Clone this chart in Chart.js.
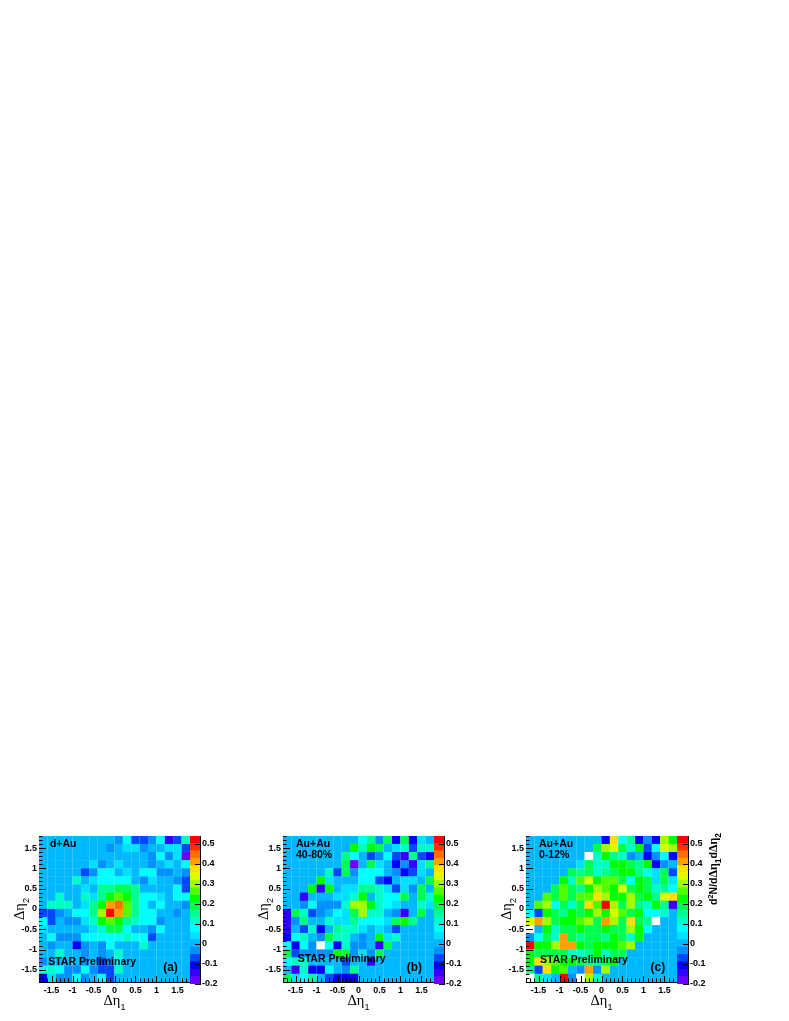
<!DOCTYPE html>
<html>
<head>
    <title>Two-particle correlations</title>
    <meta charset="UTF-8">
    <style>
        body { margin: 0; background: #fff; }
        #figure { position: relative; width: 789px; height: 1021px; overflow: hidden; }
        canvas { position: absolute; }
    </style>
</head>
<body>
    <div id="figure"></div>

    <script src="https://cdn.jsdelivr.net/npm/chart.js"></script>

    <script>
        // Bin centres, left to right and top to bottom
        const etaX = [-1.7,-1.5,-1.3,-1.1,-0.9,-0.7,-0.5,-0.3,-0.1,0.1,0.3,0.5,0.7,0.9,1.1,1.3,1.5,1.7];
        const etaY = [1.7,1.5,1.3,1.1,0.9,0.7,0.5,0.3,0.1,-0.1,-0.3,-0.5,-0.7,-0.9,-1.1,-1.3,-1.5,-1.7];

        const dAu = [
            [0,0,0,0,0,0,0,0,0,-.03,.08,-.07,-.07,-.03,.08,-.14,-.07,.11],
            [0,0,0,0,0,0,0,0,-.03,0,.04,.04,-.03,0,0,.04,.04,-.07],
            [0,0,0,0,0,0,0,0,0,0,0,0,0,-.03,.08,-.03,.04,-.18],
            [0,0,0,0,0,0,.04,-.03,0,.04,0,0,0,-.03,0,.04,0,.08],
            [0,0,0,0,0,-.07,-.03,.08,.08,0,.04,0,.08,.08,-.03,-.03,0,-.03],
            [0,0,0,0,.11,0,.04,.08,.08,.08,.08,0,-.03,.04,0,0,-.03,-.07],
            [0,0,0,0,0,.04,0,.15,.15,.19,.19,.15,0,0,0,0,.08,-.07],
            [0,0,.11,0,0,.11,.04,.15,.23,.26,.23,.15,.08,.08,.04,0,.08,.08],
            [0,.11,.11,.11,0,.04,.15,.23,.41,.45,.26,.15,.08,0,.08,0,0,-.03],
            [-.07,-.07,-.03,0,.08,.08,.15,.3,.52,.41,.26,.15,.08,.08,0,0,-.03,0],
            [.08,-.07,0,-.03,-.03,.04,.11,.23,.26,.23,.15,.11,.08,.08,-.03,0,0,0],
            [.04,0,0,0,0,0,.04,.11,.19,.19,.08,0,0,-.03,.08,0,0,0],
            [0,.08,-.03,-.03,-.03,.08,.08,.08,.08,.08,.11,.08,.08,-.07,0,0,0,0],
            [0,-.03,0,0,-.11,-.03,0,-.03,.08,0,0,0,.11,0,0,0,0,0],
            [0,0,.11,0,0,-.03,0,-.03,0,.11,0,0,0,0,0,0,0,0],
            [-.03,0,0,0,0,-.03,0,-.07,-.03,.08,0,0,0,0,0,0,0,0],
            [.08,.11,.08,-.03,-.03,.08,-.03,-.07,-.07,.11,0,0,0,0,0,0,0,0],
            [-.11,.04,-.03,-.03,.08,-.03,0,.08,-.07,0,0,0,0,0,0,0,0,0]
        ];

        const auAu40 = [
            [0,0,0,0,0,0,0,0,0,.08,.15,-.03,.19,-.11,.19,-.11,.04,0],
            [0,0,0,0,0,0,0,0,.23,.11,.23,.19,0,.04,.11,-.07,.11,.11],
            [0,0,0,0,0,0,0,.15,.08,0,-.07,-.03,.08,-.07,-.14,.15,-.07,-.11],
            [0,0,0,0,0,0,0,.19,-.18,0,.19,.04,0,-.11,-.03,-.14,.04,.15],
            [0,0,0,0,0,.11,-.07,.19,-.03,.08,.08,.08,0,-.03,-.11,-.07,.04,0],
            [0,0,0,0,.23,.04,0,0,0,.08,.08,-.07,-.11,0,.04,.04,0,.19],
            [0,0,0,.23,-.14,.23,0,.04,.04,.15,.15,.11,.04,-.07,.04,-.03,.19,0],
            [0,0,-.14,0,0,0,.04,.04,.11,.23,0,.11,.08,.08,.19,0,.19,.11],
            [0,0,-.03,.08,-.03,-.03,-.03,.11,.3,.3,.23,.11,.08,.04,0,0,.11,.04],
            [-.14,.19,.11,-.07,-.03,0,.08,.04,.19,.3,.11,.11,0,-.03,-.14,0,.19,0],
            [-.14,-.03,.15,0,0,.11,.04,.04,.15,.08,.08,.08,.04,.19,.23,.15,0,0],
            [-.14,0,-.07,.11,-.11,0,.15,.11,.11,.04,0,.04,0,-.07,0,0,0,0],
            [-.11,.08,.11,0,-.03,.19,.11,.11,0,-.03,0,.23,.04,.11,0,0,0,0],
            [.08,-.11,.08,-.03,.6,.08,-.11,.11,-.03,-.03,0,-.14,.19,0,0,0,0,0],
            [.19,-.07,-.03,-.03,-.03,-.03,.23,.19,-.03,.04,-.03,.19,0,0,0,0,0,0],
            [.08,.11,.11,0,0,0,0,-.07,0,0,-.14,0,0,0,0,0,0,0],
            [0,-.14,.11,-.11,-.11,.08,0,-.03,.15,0,0,0,0,0,0,0,0,0],
            [.19,.04,.08,.15,0,-.07,-.11,-.11,-.11,0,0,0,0,0,0,0,0,0]
        ];

        const auAu0 = [
            [0,0,0,0,0,0,0,0,0,-.11,.37,.08,.15,-.11,-.03,-.11,.3,.23],
            [0,0,0,0,0,0,0,0,.19,.3,.34,.19,.11,.23,-.07,.08,.34,.3],
            [0,0,0,0,0,0,0,.6,.11,.23,.15,.11,-.03,0,-.11,-.03,.08,-.11],
            [0,0,0,0,0,0,.04,.19,.11,.11,.23,.23,.19,.15,.23,-.11,-.03,0],
            [0,0,0,0,0,.19,.15,.19,.11,.15,.19,.23,.23,.15,.08,.04,.19,-.07],
            [0,0,0,0,.23,.11,.26,.34,.23,.26,.26,.19,.08,.23,.19,.04,.19,.04],
            [0,0,0,.19,.26,.19,.15,.23,.3,.26,.23,.34,.19,.23,.19,.11,.15,.08],
            [0,0,.26,.19,.26,.19,.26,.26,.37,.3,.23,.23,.3,.19,.23,.15,.34,.37],
            [0,.26,.3,.08,.19,.11,.19,.37,.26,.52,.3,.19,.3,.15,.11,.23,.15,-.14],
            [.08,-.07,.23,.19,.15,.23,.19,.23,.3,.23,.34,.26,.19,.23,.08,.08,.11,0],
            [.34,.41,.3,.19,.23,.23,.26,.3,.19,.41,.3,.19,.37,.19,.15,.6,0,0],
            [.6,0,.23,.11,.19,.19,.23,.19,.19,.23,.19,.19,.3,.23,.08,0,0,0],
            [-.03,.08,.19,.11,.41,.19,.15,.19,.19,.15,.23,.19,.11,.23,0,0,0,0],
            [.52,.23,.23,.3,.41,.41,.23,.19,.23,.23,.23,.26,.3,0,0,0,0,0],
            [.23,.19,.19,.19,.19,.11,.11,.15,.23,.11,.19,.19,0,0,0,0,0,0],
            [.23,.37,.3,.26,.23,.23,.19,.15,.15,.19,.23,0,0,0,0,0,0,0],
            [.15,-.07,.37,.23,.26,0,-.03,.41,-.03,.3,0,0,0,0,0,0,0,0],
            [.6,.15,.04,0,.52,-.03,.6,.3,.11,0,0,0,0,0,0,0,0,0]
        ];

        // Colour scale: contour edges and one colour per contour
        const zEdges = [-.2,-.163,-.126,-.089,-.052,-.015,.022,.059,.096,.133,.17,.207,.244,.281,.318,.355,.392,.429,.466,.503,.54];
        const zColors = ['#6a00ff','#3300ff','#0000ff','#0048ff','#0090ff','#00b8ff','#00e0ff','#00ffff','#00ffc8','#00ff90','#00ff50','#00ff00','#50ff00','#a0ff00','#d8ff00','#ffe000','#ffa000','#ff7000','#ff3000','#ff0000'];

        // Axis titles as runs: [text, kind], kind is n(ormal), g(reek), s(ubscript) or u(pper index)
        const xTitle = [['Δη', 'g'], ['1', 's']];
        const yTitle = [['Δη', 'g'], ['2', 's']];
        const zTitle = [['d', 'n'], ['2', 'u'], ['N/d', 'n'], ['Δη', 'g'], ['1', 's'], ['d', 'n'], ['Δη', 'g'], ['2', 's']];

        const starLabel = 'STAR Preliminary';

        function colorFor(v) {
            if (v < zEdges[0] || v > zEdges[zEdges.length - 1]) return '#ffffff';
            for (let i = 0; i < zColors.length; i++) {
                if (v <= zEdges[i + 1]) return zColors[i];
            }
            return '#ffffff';
        }

        function cellPoints(rows) {
            const points = [];
            rows.forEach((row, r) => {
                row.forEach((v, c) => {
                    points.push({ x: etaX[c], y: etaY[r], v: v });
                });
            });
            return points;
        }

        // ROOT style ticks, drawn inwards from the axis
        const inwardTicks = {
            id: 'inwardTicks',
            afterDraw(chart) {
                const ctx = chart.ctx;
                const area = chart.chartArea;
                ctx.save();
                ctx.strokeStyle = '#000';
                ctx.lineWidth = 1;
                ctx.beginPath();
                if (chart.config.type === 'scatter') {
                    chart.scales.x.ticks.forEach(t => {
                        const big = isMajor(t.value);
                        const px = Math.round(chart.scales.x.getPixelForValue(t.value)) + 0.5;
                        ctx.moveTo(px, area.bottom);
                        ctx.lineTo(px, area.bottom - (big ? 6 : 3.5));
                    });
                    chart.scales.y.ticks.forEach(t => {
                        const big = isMajor(t.value);
                        const py = Math.round(chart.scales.y.getPixelForValue(t.value)) + 0.5;
                        ctx.moveTo(area.left, py);
                        ctx.lineTo(area.left + (big ? 7 : 3.5), py);
                    });
                } else {
                    chart.scales.y.ticks.forEach(t => {
                        const py = Math.round(chart.scales.y.getPixelForValue(t.value)) + 0.5;
                        ctx.moveTo(area.right, py);
                        ctx.lineTo(area.right - 5, py);
                    });
                }
                ctx.stroke();
                ctx.restore();
            }
        };

        const sans = '"Liberation Sans", Arial, sans-serif';
        const serif = '"Liberation Serif", "DejaVu Serif", serif';

        function drawRuns(ctx, runs, x, y, rotated, centered, bold) {
            const weight = bold ? 'bold ' : '';
            const fonts = {
                n: weight + '10.5px ' + sans,
                g: weight + (bold ? '12px ' : '14.5px ') + serif,
                s: weight + (bold ? '8.5px ' : '9px ') + sans,
                u: weight + '7.5px ' + sans
            };
            const shift = { n: 0, g: 0, s: bold ? 4 : 4.5, u: -4 };
            let total = 0;
            runs.forEach(r => {
                ctx.font = fonts[r[1]];
                total += ctx.measureText(r[0]).width;
            });
            ctx.save();
            ctx.textBaseline = 'alphabetic';
            ctx.textAlign = 'left';
            ctx.translate(x, y);
            if (rotated) ctx.rotate(-Math.PI / 2);
            let pen = centered ? -total / 2 : 0;
            runs.forEach(r => {
                ctx.font = fonts[r[1]];
                ctx.fillText(r[0], pen, shift[r[1]]);
                pen += ctx.measureText(r[0]).width;
            });
            ctx.restore();
        }

        // Text inside the frame, placed in data units, and the axis titles
        const panelText = {
            id: 'panelText',
            afterDraw(chart, args, opts) {
                const ctx = chart.ctx;
                const area = chart.chartArea;
                ctx.save();
                ctx.fillStyle = '#000';
                ctx.textBaseline = 'middle';
                (opts.items || []).forEach(item => {
                    ctx.font = 'bold ' + item.size + 'px ' + sans;
                    ctx.fillText(item.text, chart.scales.x.getPixelForValue(item.x), chart.scales.y.getPixelForValue(item.y));
                });
                if (chart.config.type === 'scatter') {
                    drawRuns(ctx, xTitle, (area.left + area.right) / 2, area.bottom + 23, false, true, false);
                    drawRuns(ctx, yTitle, area.left - 15, (area.top + area.bottom) / 2, true, true, false);
                }
                if (opts.zTitle) {
                    drawRuns(ctx, zTitle, opts.zTitle.x, opts.zTitle.y, true, false, true);
                }
                ctx.restore();
            }
        };

        function isMajor(v) {
            return Math.abs(v * 2 - Math.round(v * 2)) < 1e-6;
        }

        function etaLabel(v) {
            return isMajor(v) ? String(+v.toFixed(1)) : '';
        }

        function noPadding(s) {
            s.paddingLeft = 0;
            s.paddingRight = 0;
            s.paddingTop = 0;
            s.paddingBottom = 0;
        }

        function addCanvas(left, top, width, height) {
            const c = document.createElement('canvas');
            c.width = width;
            c.height = height;
            c.style.left = left + 'px';
            c.style.top = top + 'px';
            document.getElementById('figure').appendChild(c);
            return c;
        }

        const tickFont = { family: sans, size: 9, weight: 'bold' };

        function drawPanel(plotLeft, rows, items) {
            const canvas = addCanvas(plotLeft - 38, 830, 189, 185);
            return new Chart(canvas, {
                type: 'scatter',
                data: {
                    datasets: [{
                        data: cellPoints(rows),
                        pointStyle: 'rect',
                        borderWidth: 0,
                        clip: 0,
                        backgroundColor: c => colorFor(c.raw.v),
                        pointRadius: c => (c.chart.scales.x.width / etaX.length + 0.05) / Math.SQRT2
                    }]
                },
                options: {
                    responsive: false,
                    animation: false,
                    events: [],
                    layout: { padding: { top: 6 } },
                    plugins: {
                        legend: { display: false },
                        tooltip: { enabled: false },
                        panelText: { items: items }
                    },
                    scales: {
                        x: {
                            type: 'linear',
                            min: -1.8,
                            max: 1.8,
                            afterFit: s => { s.height = 33; noPadding(s); },
                            grid: { display: false, drawTicks: false },
                            border: { display: true, color: '#000', width: 1 },
                            ticks: {
                                stepSize: 0.1, includeBounds: false, autoSkip: false, maxRotation: 0, minRotation: 0,
                                padding: 3, color: '#000', font: tickFont, callback: etaLabel
                            }
                        },
                        y: {
                            type: 'linear',
                            min: -1.8,
                            max: 1.8,
                            afterFit: s => { s.width = 38; noPadding(s); },
                            grid: { display: false, drawTicks: false },
                            border: { display: true, color: '#000', width: 1 },
                            ticks: {
                                stepSize: 0.1, includeBounds: false, autoSkip: false,
                                padding: 2, color: '#000', font: tickFont, callback: etaLabel
                            }
                        }
                    }
                },
                plugins: [inwardTicks, panelText]
            });
        }

        function drawColorBar(left, barWidth, canvasWidth, title) {
            const canvas = addCanvas(left, 830, canvasWidth, 160);
            return new Chart(canvas, {
                type: 'bar',
                data: {
                    labels: ['z'],
                    datasets: zColors.map((color, i) => ({
                        data: [[zEdges[i], zEdges[i + 1]]],
                        backgroundColor: color,
                        borderWidth: 0,
                        grouped: false,
                        barPercentage: 1,
                        categoryPercentage: 1
                    }))
                },
                options: {
                    responsive: false,
                    animation: false,
                    events: [],
                    layout: { padding: { top: 6, bottom: 6 } },
                    plugins: {
                        legend: { display: false },
                        tooltip: { enabled: false },
                        panelText: { zTitle: title }
                    },
                    scales: {
                        x: { display: false },
                        y: {
                            position: 'right',
                            min: zEdges[0],
                            max: zEdges[zEdges.length - 1],
                            afterFit: s => { s.width = canvasWidth - barWidth; noPadding(s); },
                            grid: { display: false, drawTicks: false },
                            border: { display: true, color: '#000', width: 1 },
                            ticks: {
                                stepSize: 0.1, includeBounds: false,
                                padding: 2, color: '#000', font: tickFont,
                                callback: v => String(+v.toFixed(1))
                            }
                        }
                    }
                },
                plugins: [inwardTicks, panelText]
            });
        }

        drawPanel(39, dAu, [
            { text: 'd+Au', x: -1.54, y: 1.6, size: 10.5 },
            { text: starLabel, x: -1.58, y: -1.31, size: 10.5 },
            { text: '(a)', x: 1.16, y: -1.455, size: 12 }
        ]);
        drawColorBar(190, 10, 45, null);

        drawPanel(283, auAu40, [
            { text: 'Au+Au', x: -1.49, y: 1.6, size: 10.5 },
            { text: '40-80%', x: -1.49, y: 1.33, size: 10.5 },
            { text: starLabel, x: -1.45, y: -1.245, size: 10.5 },
            { text: '(b)', x: 1.15, y: -1.455, size: 12 }
        ]);
        drawColorBar(434, 10, 45, null);

        drawPanel(526, auAu0, [
            { text: 'Au+Au', x: -1.49, y: 1.6, size: 10.5 },
            { text: '0-12%', x: -1.49, y: 1.33, size: 10.5 },
            { text: starLabel, x: -1.466, y: -1.27, size: 10.5 },
            { text: '(c)', x: 1.17, y: -1.455, size: 12 }
        ]);
        drawColorBar(677, 11, 60, { x: 39.5, y: 75 });
    </script>
</body>
</html>
